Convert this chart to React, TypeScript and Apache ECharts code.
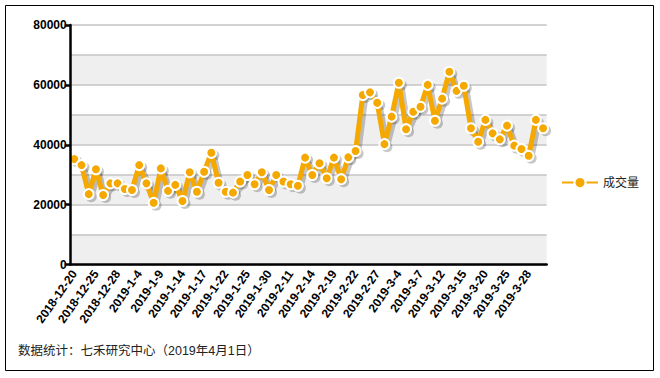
import React, { useEffect, useRef } from "react";
import * as echarts from "echarts";

const dates: string[] = [
  "2018-12-20", "2018-12-21", "2018-12-24", "2018-12-25", "2018-12-26", "2018-12-27", "2018-12-28",
  "2019-1-2", "2019-1-3", "2019-1-4", "2019-1-7", "2019-1-8", "2019-1-9", "2019-1-10", "2019-1-11",
  "2019-1-14", "2019-1-15", "2019-1-16", "2019-1-17", "2019-1-18", "2019-1-21", "2019-1-22",
  "2019-1-23", "2019-1-24", "2019-1-25", "2019-1-28", "2019-1-29", "2019-1-30", "2019-1-31",
  "2019-2-1", "2019-2-11", "2019-2-12", "2019-2-13", "2019-2-14", "2019-2-15", "2019-2-18",
  "2019-2-19", "2019-2-20", "2019-2-21", "2019-2-22", "2019-2-25", "2019-2-26", "2019-2-27",
  "2019-2-28", "2019-3-1", "2019-3-4", "2019-3-5", "2019-3-6", "2019-3-7", "2019-3-8",
  "2019-3-11", "2019-3-12", "2019-3-13", "2019-3-14", "2019-3-15", "2019-3-18", "2019-3-19",
  "2019-3-20", "2019-3-21", "2019-3-22", "2019-3-25", "2019-3-26", "2019-3-27", "2019-3-28",
  "2019-3-29", "2019-4-1",
];

const volume: number[] = [
  35200, 33200, 23500, 31800, 23200, 27100, 27100, 25200, 24900, 33200, 27100, 20600, 32100,
  24600, 26600, 21200, 30800, 24300, 31000, 37300, 27300, 24300, 24000, 27700, 29900, 26800,
  30800, 24900, 29900, 27700, 26800, 26300, 35700, 29900, 33800, 28800, 35700, 28500, 35800,
  37900, 56600, 57500, 54000, 40200, 49400, 60700, 45200, 51000, 52700, 60000, 48000, 55400,
  64400, 58000, 59700, 45500, 41000, 48300, 43800, 41800, 46400, 39700, 38600, 36300, 48300,
  45500,
];

const seriesName = "成交量";
const footer = "数据统计：七禾研究中心（2019年4月1日）";

const FONT = "'Liberation Sans', Arial, 'Noto Sans CJK SC', sans-serif";

export default function App() {
  const ref = useRef<HTMLDivElement>(null);
  useEffect(() => {
    if (!ref.current) return;
    const chart = echarts.init(ref.current, undefined, { renderer: "svg" });
    const hiddenAxis = {
      axisLine: { show: false },
      axisTick: { show: false },
      axisLabel: { show: false },
      splitLine: { show: false },
    };
    chart.setOption({
      animation: false,
      backgroundColor: "#ffffff",
      textStyle: { fontFamily: FONT },
      grid: [
        { left: 70.7, right: 113.3, top: 25, bottom: 113.5, containLabel: false },
        { left: 73.2, right: 110.8, top: 27.5, bottom: 111, containLabel: false },
      ],
      legend: {
        data: [seriesName],
        left: 556,
        top: 171,
        itemWidth: 36,
        itemHeight: 14,
        itemGap: 4,
        textStyle: { fontFamily: FONT, fontSize: 12, color: "#222" },
      },
      graphic: [
        {
          type: "rect",
          shape: { x: 5.5, y: 5.5, width: 648, height: 365 },
          style: { fill: "none", stroke: "#000", lineWidth: 1 },
          silent: true,
        },
        {
          type: "text",
          left: 18,
          top: 345,
          style: { text: footer, fontSize: 12.5, fill: "#222", fontFamily: FONT },
        },
      ],
      xAxis: [
        {
          type: "category",
          data: dates,
          gridIndex: 0,
          boundaryGap: true,
          axisLine: { lineStyle: { color: "#000", width: 2.5 } },
          axisTick: { interval: 2, length: 6, lineStyle: { color: "#000", width: 2.5 } },
          axisLabel: {
            interval: 2,
            rotate: 55,
            color: "#000",
            fontWeight: "bold",
            fontSize: 12,
            fontFamily: FONT,
            margin: 7,
          },
          splitLine: { show: false },
          z: 5,
        },
        { type: "category", data: dates, gridIndex: 1, boundaryGap: true, ...hiddenAxis },
      ],
      yAxis: [
        {
          type: "value",
          gridIndex: 0,
          min: 0,
          max: 80000,
          interval: 20000,
          axisLine: { show: true, lineStyle: { color: "#000", width: 2.5 } },
          axisTick: { show: true, length: 6, lineStyle: { color: "#000", width: 2.5 } },
          axisLabel: {
            color: "#000",
            fontWeight: "bold",
            fontSize: 12,
            fontFamily: FONT,
            margin: 4,
            formatter: (v: number) => String(v),
          },
          splitLine: { show: false },
          z: 5,
        },
        {
          type: "value",
          gridIndex: 0,
          min: 0,
          max: 80000,
          interval: 10000,
          position: "left",
          axisLine: { show: false },
          axisTick: { show: false },
          axisLabel: { show: false },
          splitLine: { show: true, lineStyle: { color: "#c4c4c4", width: 1.5 } },
          splitArea: { show: true, areaStyle: { color: ["#efefef", "#ffffff"] } },
          z: 0,
        },
        { type: "value", gridIndex: 1, min: 0, max: 80000, ...hiddenAxis },
      ],
      series: [
        {
          name: "shadow",
          type: "line",
          xAxisIndex: 1,
          yAxisIndex: 2,
          data: volume,
          symbol: "circle",
          symbolSize: 11,
          showSymbol: true,
          showAllSymbol: true,
          silent: true,
          itemStyle: { color: "rgba(0,0,0,0.22)", borderWidth: 0 },
          lineStyle: { color: "rgba(0,0,0,0.22)", width: 6 },
          z: 2,
        },
        {
          name: seriesName,
          type: "line",
          xAxisIndex: 0,
          yAxisIndex: 0,
          data: volume,
          symbol: "circle",
          symbolSize: 10,
          showSymbol: true,
          showAllSymbol: true,
          itemStyle: {
            color: "#f4a800",
            borderColor: "#ffffff",
            borderWidth: 2,
          },
          lineStyle: {
            color: "#f4a800",
            width: 5,
          },
          z: 3,
        },
      ],
    });
    return () => chart.dispose();
  }, []);
  return (
    <div
      ref={ref}
      style={{ position: "fixed", left: 0, top: 0, width: 660, height: 378 }}
    />
  );
}
